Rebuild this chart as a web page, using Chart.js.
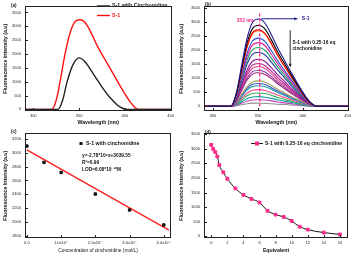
<!DOCTYPE html>
<html><head><meta charset="utf-8">
<script src="https://cdn.jsdelivr.net/npm/chart.js@4/dist/chart.umd.min.js"></script>
<style>
html,body{margin:0;padding:0;background:#fff;width:353px;height:255px;overflow:hidden}
canvas{position:absolute}
</style></head><body>
<canvas id="ca" width="176" height="127" style="left:0;top:0"></canvas>
<canvas id="cb" width="177" height="127" style="left:176px;top:0"></canvas>
<canvas id="cc" width="176" height="128" style="left:0;top:127px"></canvas>
<canvas id="cd" width="177" height="128" style="left:176px;top:127px"></canvas>
<script>
// ---------- DATA ----------
// (a)
const wavelengthA = [290,320,325,330,335,340,345,351,356,361,366,371,378,385,392,399,406,412,414,455];
const s1Intensity = [0,0,320,1130,2050,2740,3140,3240,3160,2910,2570,2220,1820,1420,1010,610,260,40,0,0];
const wavelengthA2 = [290,327,332,337,343,350,357,364,371,378,385,392,398,402,455];
const s1CinchIntensity = [0,0,320,1000,1590,1860,1700,1360,1010,670,380,150,30,0,0];
const labelsA = ['S-1 with Cinchonidine','S-1'];
// (b)
const wavelengthB = [290,320,326,332,338,344,351,358,365,372,380,388,396,404,410,415,455];
const spectraB = [
  [0,0,470,1460,2420,2980,3100,2950,2540,2080,1610,1150,710,310,90,0,0],
  [0,0,430,1350,2250,2760,2880,2740,2360,1930,1500,1070,660,290,90,0,0],
  [0,0,410,1280,2120,2610,2720,2580,2230,1820,1410,1010,630,270,80,0,0],
  [0,0,400,1260,2100,2580,2690,2560,2210,1800,1400,1000,620,270,80,0,0],
  [0,0,360,1140,1890,2320,2420,2300,1980,1620,1260,900,560,240,70,0,0],
  [0,0,340,1060,1760,2170,2260,2150,1850,1510,1180,840,520,230,70,0,0],
  [0,0,310,980,1630,2010,2090,1990,1710,1400,1090,770,480,210,60,0,0],
  [0,0,290,900,1500,1840,1920,1820,1570,1290,1000,710,440,190,60,0,0],
  [0,0,250,780,1300,1600,1670,1590,1370,1120,870,620,380,170,50,0,0],
  [0,0,230,710,1190,1460,1520,1440,1250,1020,790,560,350,150,50,0,0],
  [0,0,210,660,1100,1350,1410,1340,1160,940,730,520,320,140,40,0,0],
  [0,0,190,600,1000,1230,1280,1220,1050,860,670,470,290,130,40,0,0],
  [0,0,180,560,930,1140,1190,1130,980,800,620,440,270,120,40,0,0],
  [0,0,140,420,700,860,900,860,740,600,470,330,210,90,30,0,0],
  [0,0,120,380,630,780,810,770,660,540,420,300,190,80,20,0,0],
  [0,0,110,340,570,700,730,690,600,490,380,270,170,70,20,0,0],
  [0,0,90,280,460,570,590,560,480,400,310,220,140,60,20,0,0],
  [0,0,70,220,370,450,470,450,390,310,240,170,110,50,10,0,0],
  [0,0,50,160,270,330,340,320,280,230,180,130,80,30,10,0,0],
  [0,0,30,110,180,220,230,220,190,150,120,90,50,20,10,0,0],
  [0,0,20,50,90,110,110,100,90,70,60,40,30,10,0,0,0]
];
const colorsB = ['#1c1c90','#000000','#ff0000','#ff7a1a','#2b4fd6','#e0179a','#19a06a','#243a9c','#8b1a9a','#b0208c','#e83c8c','#7a3aa0','#a02070','#a8a060','#3a5ac8','#20a0a0','#ff4090','#30b050','#10a0a0','#c040c0','#909090'];
// (c)
const concentration = [0,0.5e-7,1e-7,2e-7,3e-7,4e-7];
const intensityC = [3095,2860,2715,2405,2175,1960];
const fitX = [0,4.15e-7];
const fitY = [3040,1885];
const ticksConc = [0,1e-7,2e-7,3e-7,4e-7];
const ticksConcLabels = ['0.0','1.0x10\u207B\u2077','2.0x10\u207B\u2077','3.0x10\u207B\u2077','4.0x10\u207B\u2077'];
const ticksC_Y = [1800,2000,2200,2400,2600,2800,3000,3200];
// (d)
const equivalents = [0,0.25,0.5,0.75,1,1.5,2,3,4,5,6,7,8,9,10,11,12,14,16];
const intensityD = [3130,2990,2880,2735,2440,2190,1970,1640,1420,1280,1160,875,745,665,525,330,230,130,65];
const ticksEquiv = [0,2,4,6,8,10,12,14,16];
// shared ticks
const ticksIntensity = [0,500,1000,1500,2000,2500,3000,3500];
const ticksWavelength = [300,350,400,450];

// ---------- HELPERS ----------
const FF = '"Liberation Sans", Arial, sans-serif';
const pts = (xs, ys) => xs.map((x,i)=>({x:x, y:ys[i]}));

function framePlugin(extra){
  return {
    id:'frame',
    afterDatasetsDraw(chart){
      const ctx = chart.ctx, a = chart.chartArea;
      ctx.save();
      ctx.strokeStyle = '#222'; ctx.lineWidth = 1;
      ctx.strokeRect(Math.round(a.left)+0.5, Math.round(a.top)+0.5, Math.round(a.right-a.left)-1, Math.round(a.bottom-a.top)-1);
      const xs = chart.scales.x, ys = chart.scales.y;
      ctx.beginPath();
      xs.ticks.forEach(t=>{ const p = Math.round(xs.getPixelForValue(t.value))+0.5; ctx.moveTo(p, a.bottom); ctx.lineTo(p, a.bottom-3); });
      ys.ticks.forEach(t=>{ const p = Math.round(ys.getPixelForValue(t.value))+0.5; ctx.moveTo(a.left, p); ctx.lineTo(a.left+3, p); });
      ctx.stroke();
      ctx.restore();
      if (extra){ ctx.save(); extra(chart, ctx); ctx.restore(); }
    }
  };
}

function axisOpts(o){
  return {
    x:{type:'linear', min:o.xmin, max:o.xmax,
       afterBuildTicks:s=>{ s.ticks = o.xt.map(v=>({value:v})); },
       afterFit:s=>{ s.height = o.xH; },
       ticks:{font:{size:4, family:FF}, color:'#222', padding:2, maxRotation:0, autoSkip:false,
              callback:o.xcb || (v=>String(v))},
       grid:{display:false, drawTicks:false, tickLength:0}, border:{display:false},
       title:{display:true, text:o.xTitle, color:'#111', font:{size:o.xTitleSize||5.2, weight:o.xTitleWeight||'bold', family:FF}, padding:{top:0,bottom:1}}},
    y:{type:'linear', min:o.ymin, max:o.ymax,
       afterBuildTicks:s=>{ s.ticks = o.yt.map(v=>({value:v})); },
       afterFit:s=>{ s.width = o.yW; },
       ticks:{font:{size:4, family:FF}, color:'#222', padding:4, autoSkip:false, callback:v=>String(v)},
       grid:{display:false, drawTicks:false, tickLength:0}, border:{display:false},
       title:{display:true, text:'Fluorescence Intensity (a.u)', color:'#111', font:{size:5.3, weight:'bold', family:FF}, padding:{top:2,bottom:0}}}
  };
}

function baseConfig(type, datasets, scales, pad, extra){
  return {
    type:type,
    data:{datasets:datasets},
    options:{responsive:false, animation:false, devicePixelRatio:1,
      layout:{padding:pad},
      plugins:{legend:{display:false}, tooltip:{enabled:false}},
      scales:scales},
    plugins:[framePlugin(extra)]
  };
}

function arrow(ctx, x1, y1, x2, y2, color, w){
  ctx.strokeStyle = color; ctx.fillStyle = color; ctx.lineWidth = w;
  ctx.beginPath(); ctx.moveTo(x1,y1); ctx.lineTo(x2,y2); ctx.stroke();
  const ang = Math.atan2(y2-y1, x2-x1), L = 3.5;
  ctx.beginPath(); ctx.moveTo(x2,y2);
  ctx.lineTo(x2 - L*Math.cos(ang-0.45), y2 - L*Math.sin(ang-0.45));
  ctx.lineTo(x2 - L*Math.cos(ang+0.45), y2 - L*Math.sin(ang+0.45));
  ctx.closePath(); ctx.fill();
}

function panelLabel(ctx, txt, x, y){
  ctx.fillStyle = '#111'; ctx.font = 'bold 4.5px '+FF; ctx.textBaseline='middle'; ctx.textAlign='left';
  ctx.fillText(txt, x, y);
}

// ---------- (a) ----------
new Chart(document.getElementById('ca'), baseConfig('line', [
  {label:labelsA[0], data:pts(wavelengthA2, s1CinchIntensity), borderColor:'#222', borderWidth:1.4, pointRadius:0, cubicInterpolationMode:'monotone'},
  {label:labelsA[1], data:pts(wavelengthA, s1Intensity), borderColor:'#ff1010', borderWidth:1.4, pointRadius:0, cubicInterpolationMode:'monotone'}
], axisOpts({xmin:291, xmax:451, ymin:-60, ymax:3720, xt:ticksWavelength, yt:ticksIntensity, xTitle:'Wavelength (nm)', yW:25, xH:16}),
 {left:0, right:2, top:2, bottom:0},
 (chart, ctx)=>{
   panelLabel(ctx, '(a)', 11, 6);
   ctx.font = 'bold 5.3px '+FF; ctx.textBaseline='middle';
   const ds = chart.data.datasets, ys=[6,15.5];
   ds.forEach((d,i)=>{
     ctx.strokeStyle=d.borderColor; ctx.lineWidth=1.4;
     ctx.beginPath(); ctx.moveTo(97, ys[i]); ctx.lineTo(110, ys[i]); ctx.stroke();
     ctx.fillStyle=d.borderColor; ctx.fillText(d.label, 112, ys[i]);
   });
 }));

// ---------- (b) ----------
new Chart(document.getElementById('cb'), baseConfig('line',
  spectraB.map((arr,i)=>({data:pts(wavelengthB, arr), borderColor:colorsB[i], borderWidth:1.1, pointRadius:0, cubicInterpolationMode:'monotone'})),
  axisOpts({xmin:290, xmax:451, ymin:-170, ymax:3550, xt:ticksWavelength, yt:ticksIntensity, xTitle:'Wavelength (nm)', yW:28, xH:16}),
  {left:0, right:3, top:2, bottom:0},
  (chart, ctx)=>{
    const X = v=>chart.scales.x.getPixelForValue(v), Y = v=>chart.scales.y.getPixelForValue(v);
    panelLabel(ctx, '(b)', 29, 5);
    ctx.strokeStyle='#ff2a8a'; ctx.lineWidth=1.3; ctx.setLineDash([3,2]);
    ctx.beginPath(); ctx.moveTo(X(352), Y(3300)); ctx.lineTo(X(352), Y(0)); ctx.stroke();
    ctx.setLineDash([]);
    ctx.fillStyle='#ff2a8a'; ctx.font='bold 4.8px '+FF; ctx.textAlign='right'; ctx.textBaseline='middle';
    ctx.fillText('352 nm', X(345), Y(3050));
    arrow(ctx, X(354), Y(3110), X(394), Y(3110), '#1c1c90', 1);
    ctx.fillStyle='#1c1c90'; ctx.textAlign='left'; ctx.font='bold 5px '+FF;
    ctx.fillText('S-1', X(399), Y(3110));
    arrow(ctx, X(386), Y(2700), X(386), Y(1400), '#111', 0.9);
    ctx.fillStyle='#111'; ctx.font='bold 4.8px '+FF;
    ctx.fillText('S-1 with 0.25-16 eq', X(388.5), Y(2250));
    ctx.fillText('cinchonidine', X(388.5), Y(2030));
  }));

// ---------- (c) ----------
new Chart(document.getElementById('cc'), baseConfig('line', [
  {label:'S-1 with cinchonidine', data:pts(concentration, intensityC), showLine:false, backgroundColor:'#111', borderColor:'#111', pointBackgroundColor:'#111', pointStyle:'rect', pointRadius:1.7},
  {label:'fit', data:pts(fitX, fitY), borderColor:'#ff1a1a', backgroundColor:'#ff1a1a', borderWidth:1.2, pointRadius:0, showLine:true}
], axisOpts({xmin:-0.055e-7, xmax:4.21e-7, ymin:1772, ymax:3277, xt:ticksConc, yt:ticksC_Y, xTitle:'Concentration of cinchonidine (mol/L)', xTitleWeight:'normal', xTitleSize:4.8, yW:25, xH:17,
   xcb:(v)=>{ const i = ticksConc.indexOf(v); return i>=0 ? ticksConcLabels[i] : ''; }}),
  {left:0, right:2, top:2, bottom:0},
  (chart, ctx)=>{
    panelLabel(ctx, '(c)', 11, 5);
    ctx.fillStyle='#111'; ctx.fillRect(79.5, 15, 3, 3);
    ctx.font='bold 5.2px '+FF; ctx.textBaseline='middle'; ctx.textAlign='left';
    ctx.fillText(chart.data.datasets[0].label, 86, 16.5);
    ctx.font='bold 4.8px '+FF;
    ctx.fillText('y=-2.78*10\u2079x+3039.55', 82, 28.5);
    ctx.fillText('R\u00B2=0.99', 82, 36);
    ctx.fillText('LOD=6.08*10\u207B\u00B9\u2070M', 82, 43);
  }));

// ---------- (d) ----------
new Chart(document.getElementById('cd'), baseConfig('line', [
  {label:'S-1 with 0.25-16 eq cinchonidine', data:pts(equivalents, intensityD), borderColor:'#111', borderWidth:1, pointStyle:'rect', pointRadius:2, pointBackgroundColor:'#ff2a8a', pointBorderColor:'#ff2a8a', cubicInterpolationMode:'monotone'}
], axisOpts({xmin:-0.9, xmax:17, ymin:-56, ymax:3523, xt:ticksEquiv, yt:ticksIntensity, xTitle:'Equivalent', yW:28, xH:17}),
  {left:0, right:3, top:2, bottom:0},
  (chart, ctx)=>{
    panelLabel(ctx, '(d)', 29, 5.5);
    ctx.strokeStyle='#111'; ctx.lineWidth=1;
    ctx.beginPath(); ctx.moveTo(75, 16.5); ctx.lineTo(87, 16.5); ctx.stroke();
    ctx.fillStyle='#ff2a8a'; ctx.fillRect(79, 14.5, 4, 4);
    ctx.fillStyle='#111'; ctx.font='bold 5px '+FF; ctx.textBaseline='middle'; ctx.textAlign='left';
    ctx.fillText(chart.data.datasets[0].label, 89, 16.5);
  }));
</script>
</body></html>
